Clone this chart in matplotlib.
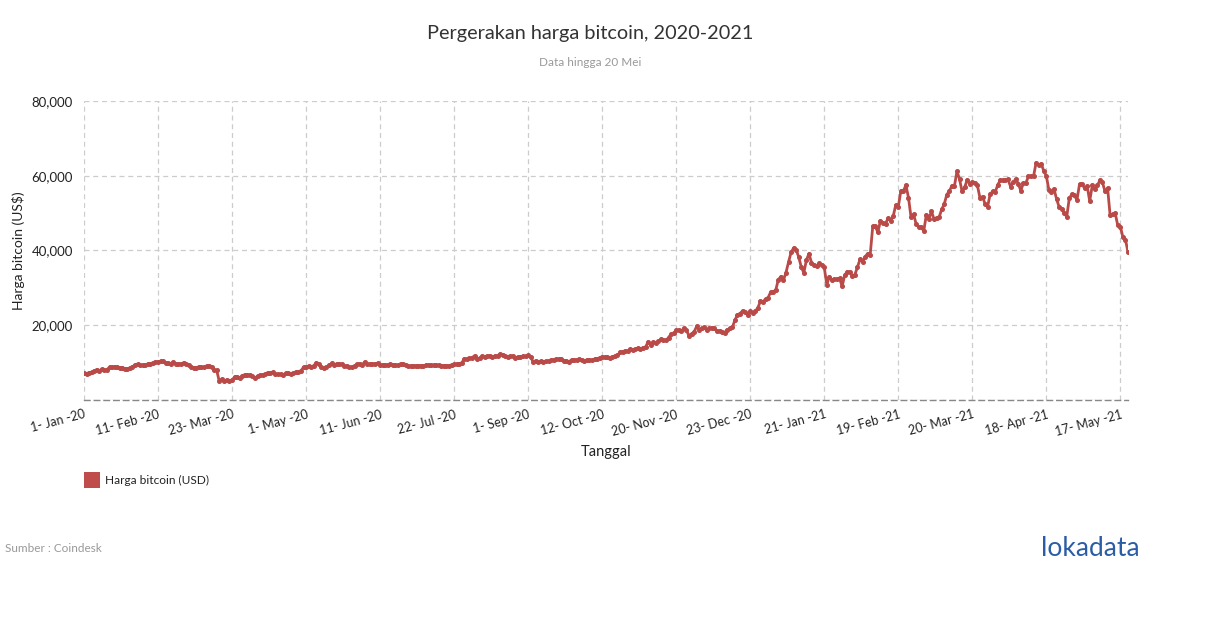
import matplotlib
matplotlib.use("Agg")
import matplotlib.pyplot as plt
from matplotlib.patches import Rectangle
from matplotlib.ticker import FuncFormatter, MultipleLocator

plt.rcParams['font.family'] = ['Lato', 'DejaVu Sans']

# ---- data (US$, one value per chart point; x axis is categorical) ----
seg_jan_feb = [7200, 6985, 7345, 7360, 7760, 8160, 7820, 8190, 8030, 8110, 8810, 8720, 8910, 8700, 8630,
               8660, 8380, 8330, 8590, 8900, 9390, 9500, 9340, 9330, 9290, 9610, 9760, 9900, 10160]
seg_feb_mar = [10270, 10350, 10360, 9900, 9920, 9700, 10170, 9600, 9690, 9660, 9970, 9650, 9310, 8780, 8690,
               8530, 8900, 8760, 8750, 9070, 9150, 8890, 8030, 7910, 4970, 5560, 5170, 5360, 5030]
seg_mar_may = [5330, 6190, 6200, 5830, 6480, 6770, 6700, 6760, 6380, 5880, 6410, 6640, 6800, 6860, 7340,
               7200, 7370, 6880, 6890, 6860, 6640, 7120, 7260, 6850, 7130, 7500, 7570, 7800, 8790]
seg_may_jun = [8830, 8970, 8880, 9150, 9980, 9560, 8730, 8570, 8830, 9310, 9800, 9380, 9680, 9760, 9520,
               9060, 9170, 8720, 8840, 9190, 9570, 9700, 9450, 10200, 9520, 9660, 9620, 9750, 9770]
seg_jun_jul = [9320, 9460, 9340, 9430, 9520, 9390, 9310, 9290, 9690, 9630, 9250, 9160, 9000, 9190, 9140,
               9230, 9060, 9130, 9340, 9430, 9240, 9240, 9300, 9250, 9190, 9150, 9210, 9160, 9390]
seg_jul_aug = [9540, 9610, 9700, 9930, 11030, 10920, 11110, 11350, 11800, 11070, 11190, 11750, 11600, 11680, 11890,
               11400, 11780, 11860, 12290, 11970, 11740, 11520, 11650, 11760, 11330, 11460, 11540, 11710, 11650]
seg_sep_oct = [11920, 11400, 10200, 10510, 10170, 10370, 10130, 10360, 10440, 10680, 10790, 10950, 10930, 11090, 10420,
               10530, 10240, 10740, 10730, 10700, 10840, 10620, 10550, 10670, 10790, 10600, 10920, 11060, 11300]
seg_oct_nov = [11540, 11430, 11500, 11320, 11500, 11750, 11920, 12820, 12930, 13120, 13070, 13650, 13270, 13560, 13800,
               13550, 14030, 14150, 15590, 14830, 15480, 15310, 15700, 16280, 16070, 15960, 16720, 17660, 17800]
seg_nov_dec = [18680, 18700, 18420, 19160, 18740, 17150, 17720, 18180, 19700, 18780, 19210, 19440, 18700, 19150, 19370,
               19170, 18330, 18550, 18260, 18040, 18800, 19170, 19440, 21360, 22800, 23130, 23860, 23480, 22750]
seg_2021 = [23830, 23250, 23730, 24690, 26440, 26250, 27040, 27370, 28880, 28990,
            29390, 32200, 33000, 32020, 34050, 36860, 39490, 40670, 40240, 38240,
            35570, 34050, 37390, 39150, 36770, 36070, 35800, 36600, 36000, 35500,
            30830, 33000, 32100, 32270, 32370, 32570, 30400, 33370, 34310, 34270, 33140,
            33540, 35520, 37620, 36940, 38300, 39190, 38830, 46450, 46480, 44840,
            47970, 47360, 47190, 48620, 47940, 49130, 52150, 51650, 55900, 55910,
            57490, 54140, 48900, 49700, 47100, 46300, 46160, 45240,
            49600, 48400, 50500, 48400, 48790, 48880, 50990, 52400, 54900, 55900,
            57300, 57250, 61200, 59100, 55800, 56900, 58900, 57800, 58300, 58100,
            57400, 54100, 54400, 52500, 51700, 55100, 55800, 55700, 57600, 58800, 58800,
            58800, 59000, 57100, 58200, 59100, 57900, 56000, 58000, 58100, 59800,
            59900, 59900, 63500, 62900, 63200, 61300, 60000, 56200, 55700, 56500,
            53800, 51700, 51200, 50100, 49000, 54000, 55000, 54800, 53500, 57700,
            57800, 56600, 57200, 53200, 57400, 56400, 57400, 58800, 58200, 55800,
            56700, 49400, 49700, 49900, 46700, 46400, 43600, 42900, 39600]

prices = (seg_jan_feb + seg_feb_mar + seg_mar_may + seg_may_jun + seg_jun_jul + seg_jul_aug
          + seg_sep_oct + seg_oct_nov + seg_nov_dec + seg_2021)

tick_labels = ['1- Jan -20', '11- Feb -20', '23- Mar -20', '1- May -20', '11- Jun -20', '22- Jul -20',
               '1- Sep -20', '12- Oct -20', '20- Nov -20', '23- Dec -20', '21- Jan -21', '19- Feb -21',
               '20- Mar -21', '18- Apr -21', '17- May -21']
tick_step = 29

# ---- figure ----
fig = plt.figure(figsize=(12.1, 6.28), dpi=100)
ax = fig.add_axes([84 / 1210, 1 - 400 / 628, (1128 - 84) / 1210, 299 / 628])

color = '#B94A48'
x = list(range(len(prices)))
ax.plot(x, prices, color=color, lw=2.0, marker='o', ms=2.6, mec=color, mfc=color, zorder=3)

ax.set_xlim(0, len(prices) - 1)
ax.set_ylim(0, 80000)

ax.set_xticks([i * tick_step for i in range(len(tick_labels))])
ax.set_xticklabels(tick_labels, rotation=15, ha='right', rotation_mode='anchor', fontsize=9, color='#222222')
ax.yaxis.set_major_locator(MultipleLocator(20000))
ax.yaxis.set_major_formatter(FuncFormatter(lambda v, p: '' if v == 0 else f'{int(v):,}'))
ax.tick_params(axis='y', length=0, labelsize=9.5, labelcolor='#222222', pad=8)
ax.tick_params(axis='x', length=0, pad=6)

ax.grid(True, color='#cccccc', ls=(0, (4, 3)), lw=0.9)
for s in ['top', 'right', 'left']:
    ax.spines[s].set_visible(False)
ax.spines['bottom'].set_color('#888888')
ax.spines['bottom'].set_linestyle((0, (4, 3)))
ax.spines['bottom'].set_linewidth(1.0)

ax.set_xlabel('Tanggal', fontsize=10.5, color='#222222', labelpad=5)
ax.set_ylabel('Harga bitcoin (US$)', fontsize=10, color='#222222', labelpad=5)

fig.text(590 / 1210, 1 - 33 / 628, 'Pergerakan harga bitcoin, 2020-2021', ha='center', va='center',
         fontsize=14.3, color='#333333')
fig.text(590 / 1210, 1 - 62 / 628, 'Data hingga 20 Mei', ha='center', va='center',
         fontsize=8.5, color='#999999')

# legend
fig.patches.append(Rectangle((84 / 1210, 1 - 488 / 628), 16 / 1210, 16 / 628,
                             transform=fig.transFigure, facecolor='#BF4B4B', edgecolor='none'))
fig.text(105 / 1210, 1 - 480 / 628, 'Harga bitcoin (USD)', ha='left', va='center', fontsize=8.6, color='#222222')

fig.text(5 / 1210, 1 - 548 / 628, 'Sumber : Coindesk', ha='left', va='center', fontsize=8.5, color='#999999')
fig.text(1140 / 1210, 1 - 549 / 628, 'lokadata', ha='right', va='center', fontsize=19, color='#2B5DA6')

fig.savefig('out.png', dpi=100)
